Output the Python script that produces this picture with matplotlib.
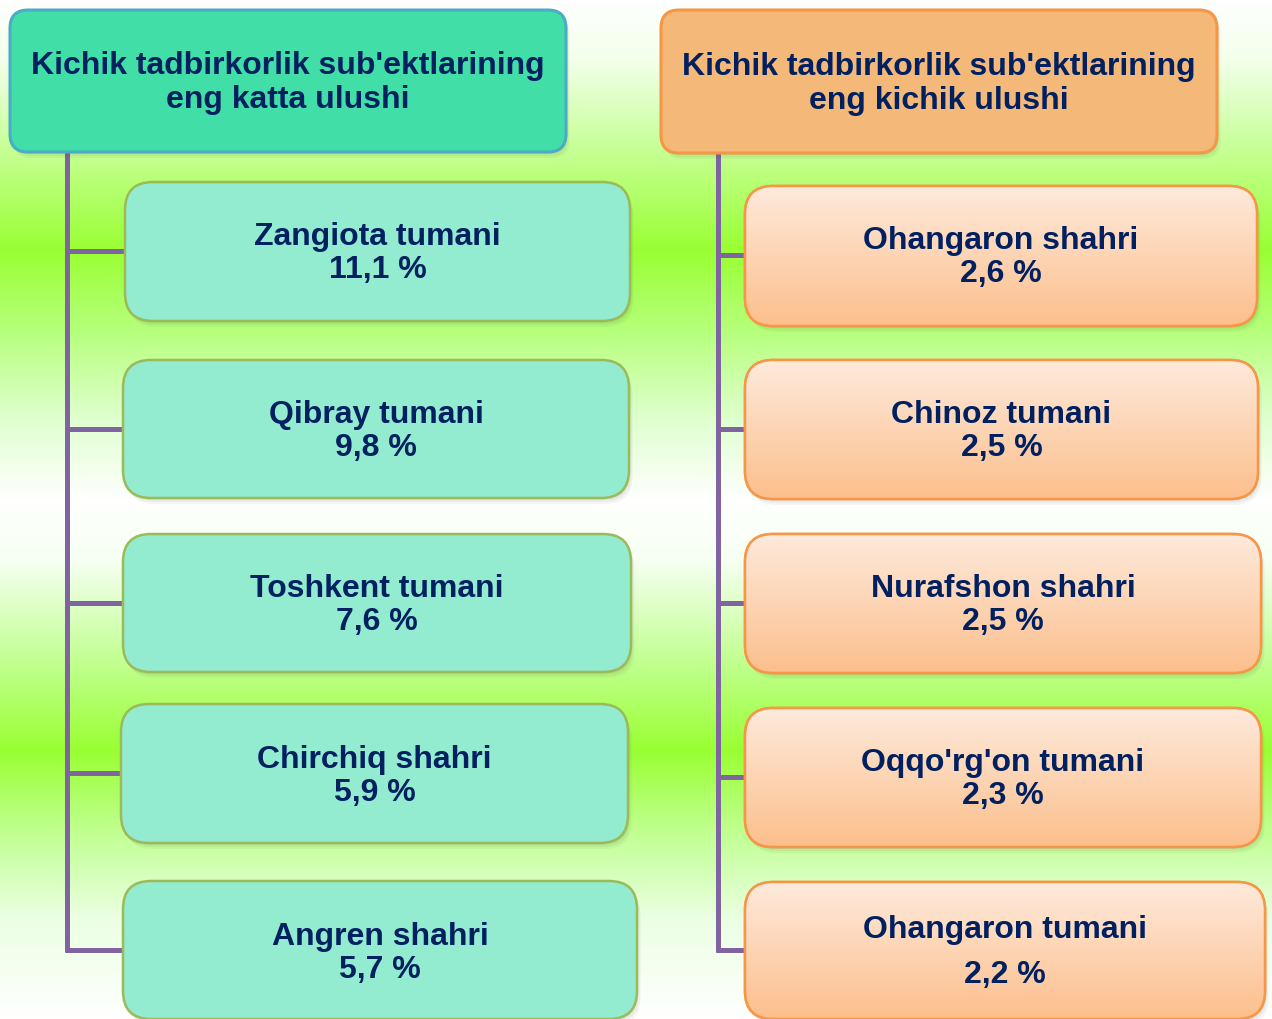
import numpy as np
import matplotlib
matplotlib.use('Agg')
import matplotlib.pyplot as plt
from matplotlib.patches import FancyBboxPatch
from matplotlib.colors import to_rgb

# ---- data ----
left_title = ["Kichik tadbirkorlik sub'ektlarining", "eng katta ulushi"]
right_title = ["Kichik tadbirkorlik sub'ektlarining", "eng kichik ulushi"]
left_names = ["Zangiota tumani", "Qibray tumani", "Toshkent tumani",
              "Chirchiq shahri", "Angren shahri"]
left_values = [11.1, 9.8, 7.6, 5.9, 5.7]
right_names = ["Ohangaron shahri", "Chinoz tumani", "Nurafshon shahri",
               "Oqqo'rg'on tumani", "Ohangaron tumani"]
right_values = [2.6, 2.5, 2.5, 2.3, 2.2]

W, H = 1272, 1019
fig = plt.figure(figsize=(W / 100, H / 100), dpi=100)
ax = fig.add_axes([0, 0, 1, 1])
ax.set_xlim(0, W)
ax.set_ylim(H, 0)
ax.axis('off')

# ---- background gradient ----
stops = [(0, '#ffffff'), (60, '#f2ffea'), (150, '#c6ff94'), (250, '#99ff33'),
         (330, '#b6ff7c'), (420, '#e0ffd0'), (500, '#ffffff'), (560, '#f6fff2'),
         (660, '#c2ff92'), (750, '#99ff33'), (830, '#c0ff90'), (920, '#ecffe4'),
         (1019, '#ffffff')]
ys = np.arange(H)
sy = [s[0] for s in stops]
cols = np.array([to_rgb(s[1]) for s in stops])
bg = np.stack([np.interp(ys, sy, cols[:, k]) for k in range(3)], axis=-1)[:, None, :]
ax.imshow(bg, extent=(0, W, H, 0), aspect='auto', zorder=0, interpolation='bilinear')

FONT = ['Liberation Sans', 'Arial', 'DejaVu Sans']
TXT = '#002060'
PURPLE = '#8064a2'
LW = 3.6


def draw_box(x0, y0, x1, y1, fc, ec, r, lw=1.8, grad=None):
    w, h = x1 - x0, y1 - y0
    for i, a in enumerate([0.05, 0.05, 0.06]):
        off = 6 - 2 * i
        sh = FancyBboxPatch((x0 + off * 0.6, y0 + off), w, h,
                            boxstyle=f"round,pad=0,rounding_size={r}",
                            fc='#404040', ec='none', alpha=a, zorder=2)
        ax.add_patch(sh)
    p = FancyBboxPatch((x0, y0), w, h, boxstyle=f"round,pad=0,rounding_size={r}",
                       fc=fc, ec=ec, lw=lw, zorder=3)
    ax.add_patch(p)
    if grad is not None:
        c0, c1 = np.array(to_rgb(grad[0])), np.array(to_rgb(grad[1]))
        t = np.linspace(0, 1, 200)[:, None, None]
        img = c0 + (c1 - c0) * t
        im = ax.imshow(img, extent=(x0, x1, y1, y0), aspect='auto', zorder=3.5,
                       interpolation='bilinear')
        im.set_clip_path(p)
        edge = FancyBboxPatch((x0, y0), w, h, boxstyle=f"round,pad=0,rounding_size={r}",
                              fc='none', ec=ec, lw=lw, zorder=4)
        ax.add_patch(edge)
    return p


def label(x, y, s, size=23):
    ax.text(x, y, s, ha='center', va='baseline', fontsize=size, fontweight='bold',
            color=TXT, family=FONT, zorder=6)


def fmt(v):
    return f"{v:.1f}".replace('.', ',') + " %"


# ---- headers ----
draw_box(10, 10, 566, 152, '#41dea8', '#4bacc6', 18, lw=2.2)
draw_box(661, 10, 1217, 153, '#f4b878', '#f79646', 18, lw=2.2)
label(288, 74, left_title[0])
label(288, 108, left_title[1])
label(939, 75, right_title[0])
label(939, 109, right_title[1])

# ---- connectors ----
left_branch = [251, 429, 603, 773, 950]
right_branch = [255, 429, 603, 777, 950]
ax.plot([67, 67], [152, 952], color=PURPLE, lw=LW, zorder=1, solid_capstyle='butt')
ax.plot([718, 718], [153, 952], color=PURPLE, lw=LW, zorder=1, solid_capstyle='butt')

left_boxes = [(125, 182, 630, 321), (123, 360, 629, 498), (123, 534, 631, 672),
              (121, 704, 628, 843), (123, 881, 637, 1019)]
right_boxes = [(745, 186, 1257, 326), (745, 360, 1258, 499), (745, 534, 1261, 673),
               (745, 708, 1261, 847), (745, 882, 1265, 1019)]

for yb, b in zip(left_branch, left_boxes):
    ax.plot([65, b[0]], [yb, yb], color=PURPLE, lw=LW, zorder=1,
            solid_capstyle='butt')
for yb, b in zip(right_branch, right_boxes):
    ax.plot([716, b[0]], [yb, yb], color=PURPLE, lw=LW, zorder=1,
            solid_capstyle='butt')

# ---- left items ----
left_base = [245, 423, 597, 768, 945]
for name, val, b, yb in zip(left_names, left_values, left_boxes, left_base):
    draw_box(*b, '#93ebd0', '#9bbb59', 28, lw=1.8)
    cx = (b[0] + b[2]) / 2
    label(cx, yb, name)
    label(cx, yb + 33, fmt(val))

# ---- right items ----
right_base = [249, 423, 597, 771, 938]
right_gap = [33, 33, 33, 33, 45]
for name, val, b, yb, g in zip(right_names, right_values, right_boxes, right_base, right_gap):
    draw_box(*b, '#fdd5b5', '#f79646', 28, lw=1.8, grad=('#feeadc', '#fcbf8c'))
    cx = (b[0] + b[2]) / 2
    label(cx, yb, name)
    label(cx, yb + g, fmt(val))

fig.savefig('out.png', dpi=100)
